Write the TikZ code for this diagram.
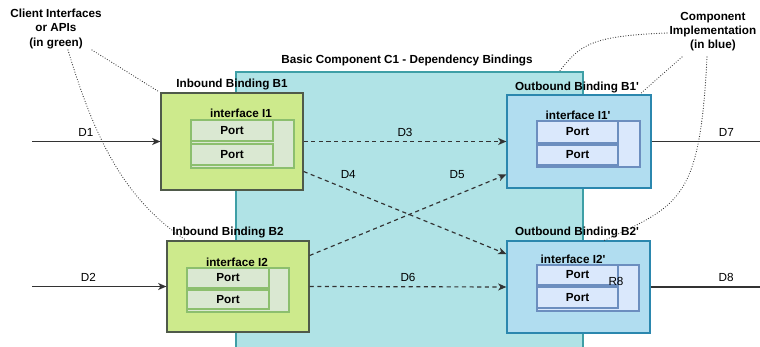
\documentclass[tikz,border=0pt]{standalone}
\usepackage{fontspec}
\setmainfont{Liberation Sans}
\usetikzlibrary{fit,calc,positioning,arrows.meta}

\definecolor{compfill}{HTML}{B0E3E6}
\definecolor{compline}{HTML}{3E9FA6}
\definecolor{greenfill}{HTML}{CDEA8C}
\definecolor{greenline}{HTML}{4F5A4A}
\definecolor{gportfill}{HTML}{DAE8D2}
\definecolor{gportline}{HTML}{8CBF6E}
\definecolor{bluefill}{HTML}{B1DDF0}
\definecolor{blueline}{HTML}{2B87AE}
\definecolor{bportfill}{HTML}{DAE8FC}
\definecolor{bportline}{HTML}{6C8EBF}
\definecolor{linegrey}{HTML}{333333}

\newcommand{\prm}{\textquotesingle}

\tikzset{
  compbox/.style={draw=compline, fill=compfill, line width=1pt, inner sep=0pt},
  inbox/.style={draw=greenline, fill=greenfill, line width=1.1pt, inner sep=0pt},
  ginter/.style={draw=gportline, fill=gportfill, line width=1pt, inner sep=0pt},
  gport/.style={draw=gportline, fill=gportfill, line width=1pt, inner sep=0pt,
    label={[font=\bfseries, inner sep=0pt]center:Port}},
  outbox/.style={draw=blueline, fill=bluefill, line width=1.1pt, inner sep=0pt},
  binter/.style={draw=bportline, fill=bportfill, line width=1pt, inner sep=0pt},
  bport/.style={draw=bportline, fill=bportfill, line width=1pt, inner sep=0pt,
    label={[font=\bfseries, inner sep=0pt]center:Port}},
  boldlab/.style={font=\bfseries, inner sep=1pt},
  extflow/.style={draw=linegrey, line width=1pt, -{Stealth[length=7pt,width=6pt,inset=2pt]}},
  extline/.style={draw=linegrey, line width=1pt},
  depflow/.style={draw=linegrey, line width=1pt, dash pattern=on 3.5pt off 3pt, -{Stealth[length=7pt,width=6pt,inset=2pt]}},
  noteline/.style={draw=linegrey, line width=1pt, line cap=round, dash pattern=on 0pt off 2.2pt},
  dlab/.style={inner sep=1pt}
}

\begin{document}
\begin{tikzpicture}[x=0.03cm, y=-0.03cm, font=\fontsize{10}{12}\selectfont]
\clip (0,0) rectangle (760,347);

% component
\node[compbox, fit={(236,72) (583,360)}] (c1) {};
\node[boldlab] (c1lab) at (407,61) {Basic Component C1 - Dependency Bindings};

% inbound bindings
\node[inbox, fit={(161,93) (303,190)}] (b1) {};
\node[boldlab] (b1lab) at (232,85) {Inbound Binding B1};
\node[ginter, fit={(191,120) (294,168)}] (i1) {};
\node[boldlab] (i1lab) at (241,113) {interface I1};
\node[gport, fit={(191,120) (273,141)}] (i1pa) {};
\node[gport, fit={(191,144) (273,165)}] (i1pb) {};

\node[inbox, fit={(167,241) (309,332)}] (b2) {};
\node[boldlab] (b2lab) at (228,232) {Inbound Binding B2};
\node[ginter, fit={(187,268) (289,312)}] (i2) {};
\node[boldlab] (i2lab) at (237,262) {interface I2};
\node[gport, fit={(187,268) (269,288)}] (i2pa) {};
\node[gport, fit={(187,290) (269,309)}] (i2pb) {};

% outbound bindings
\node[outbox, fit={(507,95) (651,188)}] (b1p) {};
\node[boldlab] (b1plab) at (577,87) {Outbound Binding B1\prm};
\node[binter, fit={(537,121) (640,167)}] (i1p) {};
\node[boldlab] (i1plab) at (578,115) {interface I1\prm};
\node[bport, fit={(537,121) (618,143)}] (i1ppa) {};
\node[bport, fit={(537,145) (618,165)}] (i1ppb) {};

\node[outbox, fit={(507,241) (650,333)}] (b2p) {};
\node[boldlab] (b2plab) at (577,232) {Outbound Binding B2\prm};
\node[binter, fit={(537,265) (639,311)}] (i2p) {};
\node[boldlab] (i2plab) at (573,259) {interface I2\prm};
\node[bport, fit={(537,265) (618,285)}] (i2ppa) {};
\node[bport, fit={(537,287) (618,308)}] (i2ppb) {};
\node[dlab] (r8) at (616,281) {R8};

% flows in and out
\coordinate (d1in) at (32,141.5);
\coordinate (d2in) at (32,286.5);
\coordinate (d7out) at (760,141.5);
\coordinate (d8out) at (760,287);
\draw[extflow] (d1in) -- node[dlab, pos=0.42, above=3pt] {D1} (b1.west);
\draw[extflow] (d2in) -- node[dlab, pos=0.42, above=3pt] {D2} (b2.west);
\draw[extline] (b1p.east) -- node[dlab, pos=0.69, above=3pt] {D7} (d7out);
\draw[extline] (b2p.east) -- node[dlab, pos=0.69, above=3pt] {D8} (d8out);

% dependencies
\draw[depflow] (b1.east) -- node[dlab, above=3pt] {D3} (b1p.west);
\draw[depflow] ($(b1.east)+(0,30)$) -- node[dlab, pos=0.22, above=8pt] {D4} ($(b2p.west)+(0,-33)$);
\draw[depflow] ($(b2.east)+(0,-31)$) -- node[dlab, pos=0.75, above=12pt] {D5} ($(b1p.west)+(0,33)$);
\draw[depflow] (b2.east) -- node[dlab, above=3pt] {D6} (b2p.west);

% notes
\node[boldlab, align=center] (note1) at (56,29) {Client Interfaces\\or APIs\\(in green)};
\node[boldlab, align=center] (note2) at (713,32) {Component\\Implementation\\(in blue)};
\draw[noteline] (92,50) -- ($(b1.north west)+(-2,-1)$);
\draw[noteline] (68,50) .. controls (95,140) and (125,200) .. ($(b2.north west)+(20,0)$);
\draw[noteline] (667,33) .. controls (590,36) and (580,45) .. ($(c1.north west)+(324,0)$);
\draw[noteline] (682,57) -- ($(b1p.north east)+(-12,0)$);
\draw[noteline] (707,57) .. controls (700,200) and (680,205) .. ($(b2p.north west)+(98,0)$);
\end{tikzpicture}
\end{document}
